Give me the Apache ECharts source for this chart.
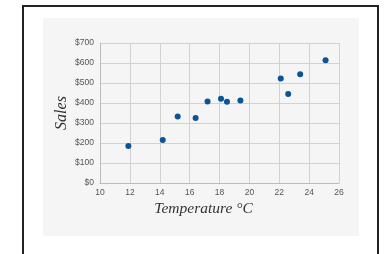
<!DOCTYPE html>
<html><head><meta charset="utf-8">
<script src="https://cdn.jsdelivr.net/npm/echarts@6/dist/echarts.min.js"></script>
<style>html,body{margin:0;padding:0;background:#fff}#c{width:386px;height:254px}</style>
</head><body><div id="c"></div>
<script>
var temperature = [11.9, 14.2, 15.2, 16.4, 17.2, 18.1, 18.5, 19.4, 22.1, 22.6, 23.4, 25.1];
var sales = [185, 215, 332, 325, 408, 421, 406, 412, 522, 445, 544, 614];
var xTicks = [10, 12, 14, 16, 18, 20, 22, 24, 26];
var yTicks = [0, 100, 200, 300, 400, 500, 600, 700];
var points = temperature.map(function (t, i) { return [t, sales[i]]; });
var chart = echarts.init(document.getElementById('c'), null, {renderer: 'canvas'});
chart.setOption({
  animation: false,
  backgroundColor: '#fff',
  graphic: [
    {type: 'rect', shape: {x: 23, y: 6, width: 355, height: 260}, style: {fill: '#fff', stroke: '#222', lineWidth: 2}, z: -10, silent: true},
    {type: 'rect', shape: {x: 43, y: 18, width: 316, height: 218}, style: {fill: '#f5f5f5'}, z: -9, silent: true}
  ],
  grid: {left: 100, right: 47, top: 43, bottom: 71},
  xAxis: {
    type: 'value', min: xTicks[0], max: xTicks[xTicks.length - 1], interval: 2,
    name: 'Temperature °C', nameLocation: 'middle', nameGap: 18, nameMoveOverlap: false,
    nameTextStyle: {fontFamily: 'Liberation Serif', fontStyle: 'italic', fontSize: 15.5, color: '#333', padding: [0, 32, 0, 0]},
    axisLine: {lineStyle: {color: '#bbb'}}, axisTick: {show: false},
    axisLabel: {fontFamily: 'Liberation Sans', fontSize: 8.5, color: '#555', margin: 5},
    splitLine: {lineStyle: {color: '#d2d2d2', width: 1}}
  },
  yAxis: {
    type: 'value', min: yTicks[0], max: yTicks[yTicks.length - 1], interval: 100,
    name: 'Sales', nameLocation: 'middle', nameGap: 30, nameRotate: 90, nameMoveOverlap: false,
    nameTextStyle: {fontFamily: 'Liberation Serif', fontStyle: 'italic', fontSize: 16, color: '#333'},
    axisLine: {show: true, lineStyle: {color: '#bbb'}}, axisTick: {show: false},
    axisLabel: {fontFamily: 'Liberation Sans', fontSize: 8.5, color: '#555', margin: 6, formatter: function (v) { return '$' + v; }},
    splitLine: {lineStyle: {color: '#d2d2d2', width: 1}}
  },
  series: [{type: 'scatter', data: points, symbolSize: 6, itemStyle: {color: '#0b5596', opacity: 1}}]
});
</script></body></html>
